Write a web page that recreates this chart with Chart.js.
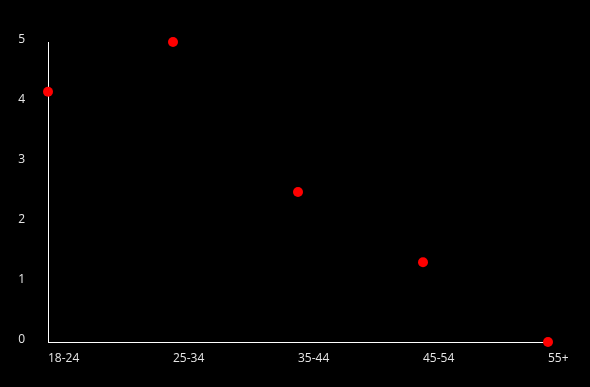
<!DOCTYPE html>
<html>
<head>
<meta charset="utf-8">
<script src="https://cdn.jsdelivr.net/npm/chart.js@4"></script>
<style>
  html, body { margin: 0; padding: 0; background: #000; }
  #wrap { width: 590px; height: 387px; }
</style>
</head>
<body>
<div id="wrap"><canvas id="chart"></canvas></div>
<script>
// Age groups and their values
const ageGroups = ['18-24', '25-34', '35-44', '45-54', '55+'];
const values = [4.17, 5.0, 2.5, 1.33, 0];
const yTicks = [0, 1, 2, 3, 4, 5];

const textColor = '#e6e6e6';

new Chart(document.getElementById('chart'), {
    type: 'line',
    data: {
        labels: ageGroups,
        datasets: [{
            data: values,
            showLine: false,
            pointRadius: 5,
            pointHoverRadius: 5,
            pointBackgroundColor: '#ff0000',
            pointBorderWidth: 0,
            clip: false
        }]
    },
    options: {
        responsive: true,
        maintainAspectRatio: false,
        animation: false,
        layout: {
            padding: { left: 0, right: 42, top: 42, bottom: 0 }
        },
        plugins: {
            legend: { display: false },
            tooltip: { enabled: false }
        },
        scales: {
            x: {
                offset: false,
                grid: { display: false },
                border: { color: '#ffffff', width: 1 },
                afterFit: function(axis) { axis.height = 45; },
                ticks: {
                    color: textColor,
                    align: 'start',
                    padding: 1,
                    maxRotation: 0,
                    font: { family: 'Open Sans', size: 12 }
                }
            },
            y: {
                min: yTicks[0],
                max: yTicks[yTicks.length - 1],
                afterBuildTicks: function(axis) {
                    axis.ticks = yTicks.map(v => ({ value: v }));
                },
                afterFit: function(axis) { axis.width = 48; },
                grid: { display: false },
                border: { color: '#ffffff', width: 1 },
                ticks: {
                    color: textColor,
                    padding: 15,
                    labelOffset: -2,
                    font: { family: 'Open Sans', size: 12 }
                }
            }
        }
    }
});
</script>
</body>
</html>
